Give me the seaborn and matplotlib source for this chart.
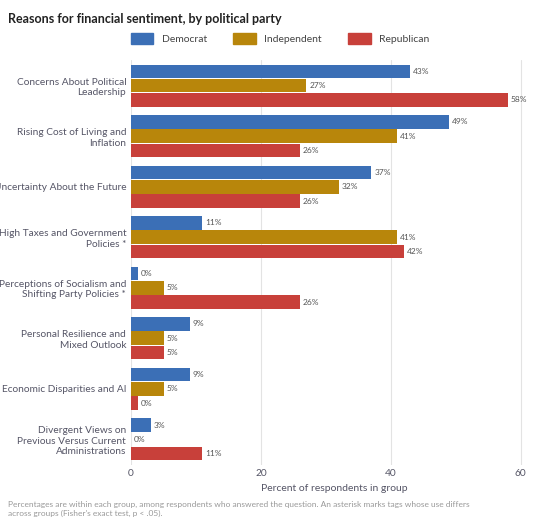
import matplotlib
matplotlib.use("Agg")
import matplotlib.pyplot as plt
import seaborn as sns
import pandas as pd

categories = ["Concerns About Political\nLeadership", "Rising Cost of Living and\nInflation",
              "Uncertainty About the Future", "High Taxes and Government\nPolicies *",
              "Perceptions of Socialism and\nShifting Party Policies *", "Personal Resilience and\nMixed Outlook",
              "Economic Disparities and AI", "Divergent Views on\nPrevious Versus Current\nAdministrations"]
parties = ["Democrat", "Independent", "Republican"]
democrat = [43, 49, 37, 11, 1, 9, 9, 3]
independent = [27, 41, 32, 41, 5, 5, 5, 0]
republican = [58, 26, 26, 42, 26, 5, 1, 11]
democrat_lbl = [43, 49, 37, 11, 0, 9, 9, 3]
independent_lbl = [27, 41, 32, 41, 5, 5, 5, 0]
republican_lbl = [58, 26, 26, 42, 26, 5, 0, 11]
colors = ["#3b6fb6", "#b8860b", "#c8403a"]

rows = []
for p, vals in zip(parties, [democrat, independent, republican]):
    for c, v in zip(categories, vals):
        rows.append({"cat": c, "party": p, "val": v})
df = pd.DataFrame(rows)

sns.set_theme(style="white")
plt.rcParams['font.family'] = ['Lato', 'DejaVu Sans']
fig = plt.figure(figsize=(5.6, 5.25), dpi=100)
ax = fig.add_axes([0.234, 0.115, 0.725, 0.77])
sns.barplot(data=df, y="cat", x="val", hue="party", palette=colors, orient="h",
            ax=ax, width=0.85, gap=0.05, legend=False, saturation=1, linewidth=0)
labels_all = [democrat_lbl, independent_lbl, republican_lbl]
for cont, labs in zip(ax.containers, labels_all):
    ax.bar_label(cont, labels=[f"{l}%" for l in labs], padding=2, fontsize=6, color="#555555")
ax.set_xlim(0, 62.5)
ax.set_xticks([0, 20, 40, 60])
ax.grid(axis="x", color="#e3e3e3", lw=0.8)
ax.set_axisbelow(True)
for s in ax.spines.values():
    s.set_visible(False)
ax.tick_params(axis="both", length=0, labelsize=7.3, colors="#555566")
ax.set_ylabel("")
ax.set_xlabel("Percent of respondents in group", fontsize=7.5, color="#555566")
fig.text(0.015, 0.975, "Reasons for financial sentiment, by political party", fontsize=9,
         fontweight="bold", va="top", color="#222222")
from matplotlib.patches import Patch
handles = [Patch(color=c, label=p) for c, p in zip(colors, parties)]
fig.legend(handles=handles, loc="upper center", bbox_to_anchor=(0.5, 0.955), ncol=3,
           frameon=False, fontsize=7.5, handlelength=2.2, handleheight=1.2, columnspacing=2.5,
           labelcolor="#444444")
fig.text(0.015, 0.045, "Percentages are within each group, among respondents who answered the question. An asterisk marks tags whose use differs\nacross groups (Fisher's exact test, p < .05).",
         fontsize=6, color="#999999", va="top")
fig.savefig("out.png", dpi=100)
